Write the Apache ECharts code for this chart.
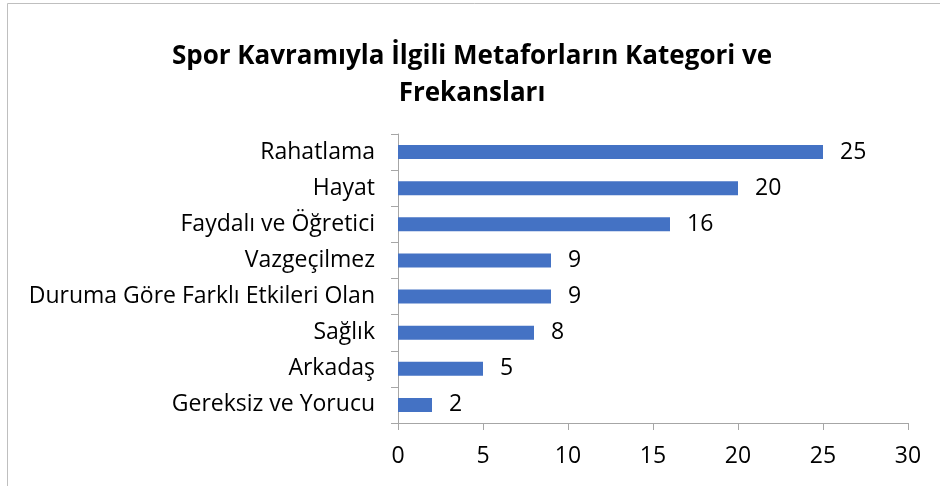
<!DOCTYPE html>
<html>
<head>
<meta charset="utf-8">
<script src="https://cdn.jsdelivr.net/npm/echarts@6/dist/echarts.min.js"></script>
<style>
  html, body { margin: 0; padding: 0; background: #fff; }
  #chart { width: 940px; height: 486px; }
</style>
</head>
<body>
<div id="chart"></div>
<script>
// categories listed bottom to top (as ECharts draws a category y axis)
const categories = [
  'Gereksiz ve Yorucu',
  'Arkadaş',
  'Sağlık',
  'Duruma Göre Farklı Etkileri Olan',
  'Vazgeçilmez',
  'Faydalı ve Öğretici',
  'Hayat',
  'Rahatlama'
]
const frequencies = [2, 5, 8, 9, 9, 16, 20, 25]
const titleText = 'Spor Kavramıyla İlgili Metaforların Kategori ve\nFrekansları'

const chartDom = document.getElementById('chart')
const myChart = echarts.init(chartDom)
const fontFam = '"Open Sans", "Noto Sans", sans-serif'

const option = {
  animation: false,
  textStyle: { fontFamily: fontFam },
  title: {
    text: titleText,
    left: 467,
    textAlign: 'center',
    top: 33,
    textStyle: {
      fontFamily: fontFam,
      fontWeight: 'bold',
      fontSize: 26,
      lineHeight: 37,
      color: '#000'
    }
  },
  graphic: [
    {
      type: 'rect',
      shape: { x: 7.5, y: 3.5, width: 1000, height: 1000 },
      style: { fill: 'none', stroke: '#BFBFBF', lineWidth: 1 },
      silent: true
    }
  ],
  grid: {
    left: 398,
    right: 32,
    top: 134,
    bottom: 63
  },
  xAxis: {
    type: 'value',
    min: 0,
    max: 30,
    interval: 5,
    splitLine: { show: false },
    axisLine: { show: true, lineStyle: { color: '#A6A6A6', width: 1 } },
    axisTick: { show: true, length: 7, lineStyle: { color: '#A6A6A6' } },
    axisLabel: { fontSize: 23, color: '#000', margin: 22, fontFamily: fontFam }
  },
  yAxis: {
    type: 'category',
    data: categories,
    axisLine: { show: true, lineStyle: { color: '#A6A6A6', width: 1 } },
    axisTick: { show: true, length: 7, lineStyle: { color: '#A6A6A6' } },
    axisLabel: { fontSize: 23, color: '#000', margin: 23, fontFamily: fontFam }
  },
  series: [
    {
      type: 'bar',
      data: frequencies,
      barWidth: 14,
      itemStyle: { color: '#4472C4' },
      label: {
        show: true,
        position: 'right',
        distance: 17,
        fontSize: 23,
        color: '#000',
        fontFamily: fontFam
      }
    }
  ]
}

myChart.setOption(option)
</script>
</body>
</html>
